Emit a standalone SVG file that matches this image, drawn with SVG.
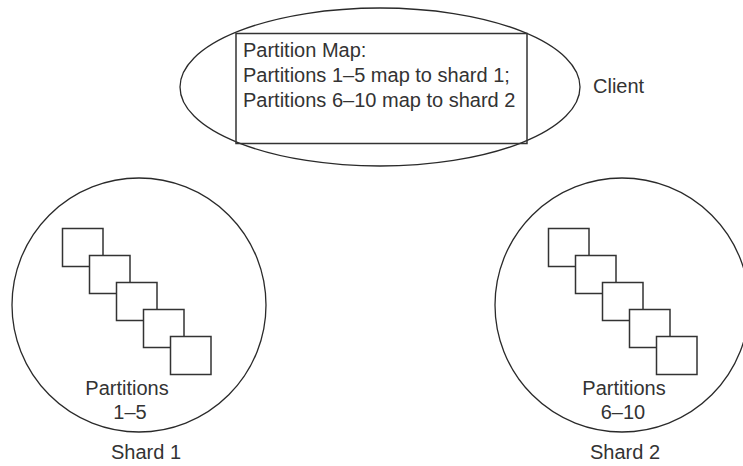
<svg xmlns="http://www.w3.org/2000/svg" width="743" height="466" viewBox="0 0 743 466">
<style>
.ln{fill:none;stroke:#2a2a2a;stroke-width:1.3}
.sq{fill:#fff;stroke:#333;stroke-width:1.5}
text{font-family:"Liberation Sans",Arial,sans-serif;font-size:20px;fill:#333}
.c{text-anchor:middle}
</style>
<rect width="743" height="466" fill="#fff"/>
<g id="client">
<ellipse class="ln" cx="380" cy="87" rx="200" ry="79"/>
<rect class="ln" x="236" y="33.5" width="291" height="110" style="stroke:#333;stroke-width:1.5"/>
<text x="243" y="57">Partition Map:</text>
<text x="243" y="82">Partitions 1–5 map to shard 1;</text>
<text x="243" y="107">Partitions 6–10 map to shard 2</text>
<text x="593" y="93">Client</text>
</g>
<g id="shard1">
<circle class="ln" cx="139" cy="305" r="127"/>
<rect class="sq" x="62.5" y="228.5" width="40.5" height="38"/>
<rect class="sq" x="89.5" y="255.5" width="40.5" height="38"/>
<rect class="sq" x="116.5" y="282.5" width="40.5" height="38"/>
<rect class="sq" x="143.5" y="309.5" width="40.5" height="38"/>
<rect class="sq" x="170.5" y="336.5" width="40.5" height="38"/>
<text class="c" x="127" y="395">Partitions</text>
<text class="c" x="130" y="419">1–5</text>
<text class="c" x="146" y="459">Shard 1</text>
</g>
<g id="shard2">
<circle class="ln" cx="622" cy="305" r="127"/>
<rect class="sq" x="548.5" y="228.5" width="40.5" height="38"/>
<rect class="sq" x="575.5" y="255.5" width="40.5" height="38"/>
<rect class="sq" x="602.5" y="282.5" width="40.5" height="38"/>
<rect class="sq" x="629.5" y="309.5" width="40.5" height="38"/>
<rect class="sq" x="656.5" y="336.5" width="40.5" height="38"/>
<text class="c" x="624" y="395">Partitions</text>
<text class="c" x="623" y="419">6–10</text>
<text class="c" x="625" y="459">Shard 2</text>
</g>
<g id="connectors"/>
</svg>
